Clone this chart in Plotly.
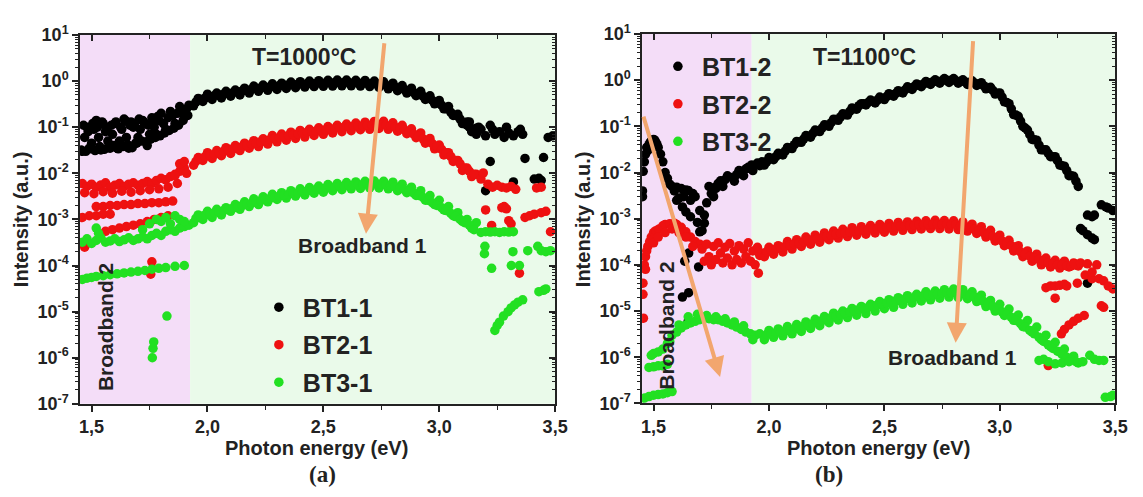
import plotly.graph_objects as go

W, H = 1143, 497

# ---------------- axis tick labels ----------------
X_TICKS = [1.5, 2.0, 2.5, 3.0, 3.5]
X_TICK_TEXT = ["1,5", "2,0", "2,5", "3,0", "3,5"]
X_MINOR = [1.75, 2.25, 2.75, 3.25]
Y_TICKS = [1e-7, 1e-6, 1e-5, 1e-4, 1e-3, 1e-2, 1e-1, 1e0, 1e1]
Y_TICK_TEXT = ["10<sup>-7</sup>", "10<sup>-6</sup>", "10<sup>-5</sup>", "10<sup>-4</sup>",
               "10<sup>-3</sup>", "10<sup>-2</sup>", "10<sup>-1</sup>", "10<sup>0</sup>", "10<sup>1</sup>"]
Y_MINOR = [m * 10.0 ** e for e in range(-7, 1) for m in range(2, 10)]

# ---------------- panel (a) data : T = 1000 C ----------------
A_GRID = [1.94, 1.96, 1.98, 2.00, 2.02, 2.04, 2.06, 2.08, 2.10, 2.12,
          2.14, 2.16, 2.18, 2.20, 2.22, 2.24, 2.26, 2.28, 2.30, 2.32,
          2.34, 2.36, 2.38, 2.40, 2.42, 2.44, 2.46, 2.48, 2.50, 2.52,
          2.54, 2.56, 2.58, 2.60, 2.62, 2.64, 2.66, 2.68, 2.70, 2.72,
          2.74, 2.76, 2.78, 2.80, 2.82, 2.84, 2.86, 2.88, 2.90, 2.92,
          2.94, 2.96, 2.98, 3.00, 3.02, 3.04, 3.06, 3.08, 3.10, 3.12,
          3.14, 3.16]
A_GRID_MID = [1.95, 1.97, 1.99, 2.01, 2.03, 2.05, 2.07, 2.09, 2.11, 2.13,
              2.15, 2.17, 2.19, 2.21, 2.23, 2.25, 2.27, 2.29, 2.31, 2.33,
              2.35, 2.37, 2.39, 2.41, 2.43, 2.45, 2.47, 2.49, 2.51, 2.53,
              2.55, 2.57, 2.59, 2.61, 2.63, 2.65, 2.67, 2.69, 2.71, 2.73,
              2.75, 2.77, 2.79, 2.81, 2.83, 2.85, 2.87, 2.89, 2.91, 2.93,
              2.95, 2.97, 2.99, 3.01, 3.03, 3.05, 3.07, 3.09, 3.11, 3.13,
              3.15]

A_BT1_MAIN = [0.29, 0.42, 0.36, 0.52, 0.40, 0.55, 0.43, 0.60, 0.47, 0.64,
              0.50, 0.70, 0.55, 0.78, 0.60, 0.82, 0.63, 0.87, 0.66, 0.90,
              0.69, 0.95, 0.72, 0.97, 0.74, 1.00, 0.76, 1.02, 0.77, 1.04,
              0.78, 1.05, 0.79, 1.05, 0.79, 1.04, 0.78, 1.03, 0.76, 1.00,
              0.73, 0.96, 0.68, 0.90, 0.62, 0.80, 0.55, 0.70, 0.48, 0.60,
              0.40, 0.48, 0.32, 0.38, 0.25, 0.28, 0.18, 0.19, 0.12, 0.13,
              0.085, 0.095]
A_BT1_MID = [0.35, 0.40, 0.43, 0.46, 0.48, 0.50, 0.52, 0.54, 0.56, 0.58,
             0.61, 0.63, 0.66, 0.69, 0.71, 0.73, 0.75, 0.77, 0.79, 0.81,
             0.82, 0.84, 0.85, 0.86, 0.87, 0.88, 0.89, 0.90, 0.91, 0.92,
             0.92, 0.92, 0.92, 0.92, 0.91, 0.91, 0.90, 0.89, 0.88, 0.86,
             0.84, 0.81, 0.78, 0.74, 0.70, 0.65, 0.61, 0.56, 0.51, 0.47,
             0.42, 0.38, 0.34, 0.30, 0.25, 0.21, 0.18, 0.15, 0.12, 0.10,
             0.09]
A_BT2_MAIN = [0.015, 0.022, 0.019, 0.028, 0.021, 0.031, 0.024, 0.036, 0.027, 0.040,
              0.031, 0.045, 0.035, 0.051, 0.038, 0.056, 0.043, 0.066, 0.048, 0.071,
              0.052, 0.078, 0.057, 0.085, 0.061, 0.090, 0.066, 0.097, 0.070, 0.103,
              0.075, 0.110, 0.080, 0.117, 0.084, 0.123, 0.088, 0.128, 0.090, 0.133,
              0.094, 0.134, 0.090, 0.124, 0.082, 0.110, 0.072, 0.092, 0.059, 0.075,
              0.045, 0.057, 0.034, 0.041, 0.025, 0.028, 0.018, 0.019, 0.0115, 0.013,
              0.0085, 0.0095]
A_BT2_MID = [0.018, 0.021, 0.023, 0.025, 0.026, 0.028, 0.030, 0.032, 0.034, 0.036,
             0.038, 0.040, 0.043, 0.045, 0.048, 0.051, 0.054, 0.057, 0.060, 0.063,
             0.066, 0.069, 0.072, 0.075, 0.078, 0.080, 0.083, 0.086, 0.088, 0.091,
             0.094, 0.097, 0.100, 0.102, 0.104, 0.106, 0.108, 0.110, 0.112, 0.113,
             0.113, 0.110, 0.106, 0.100, 0.094, 0.087, 0.079, 0.071, 0.063, 0.056,
             0.050, 0.044, 0.038, 0.033, 0.028, 0.023, 0.019, 0.016, 0.013, 0.011,
             0.0095]
A_BT3_MAIN = [8.5e-4, 1.25e-3, 1.0e-3, 1.5e-3, 1.1e-3, 1.65e-3, 1.25e-3, 1.8e-3, 1.5e-3, 2.1e-3,
              1.65e-3, 2.4e-3, 1.9e-3, 2.8e-3, 2.1e-3, 3.1e-3, 2.4e-3, 3.5e-3, 2.7e-3, 3.8e-3,
              2.9e-3, 4.2e-3, 3.2e-3, 4.6e-3, 3.4e-3, 4.9e-3, 3.7e-3, 5.3e-3, 3.9e-3, 5.7e-3,
              4.2e-3, 6.0e-3, 4.4e-3, 6.3e-3, 4.6e-3, 6.5e-3, 4.7e-3, 6.7e-3, 4.8e-3, 6.8e-3,
              4.8e-3, 6.7e-3, 4.6e-3, 6.4e-3, 4.2e-3, 5.8e-3, 3.8e-3, 5.0e-3, 3.3e-3, 4.2e-3,
              2.6e-3, 3.3e-3, 2.1e-3, 2.6e-3, 1.6e-3, 1.9e-3, 1.2e-3, 1.4e-3, 9.0e-4, 1.0e-3,
              6.5e-4, 8.5e-4]
A_BT3_MID = [1.05e-3, 1.15e-3, 1.25e-3, 1.3e-3, 1.4e-3, 1.45e-3, 1.55e-3, 1.65e-3, 1.75e-3, 1.85e-3,
             2.0e-3, 2.1e-3, 2.25e-3, 2.4e-3, 2.55e-3, 2.7e-3, 2.85e-3, 3.0e-3, 3.2e-3, 3.35e-3,
             3.5e-3, 3.65e-3, 3.8e-3, 4.0e-3, 4.15e-3, 4.3e-3, 4.5e-3, 4.65e-3, 4.8e-3, 4.95e-3,
             5.1e-3, 5.2e-3, 5.35e-3, 5.45e-3, 5.55e-3, 5.65e-3, 5.7e-3, 5.8e-3, 5.8e-3, 5.8e-3,
             5.8e-3, 5.6e-3, 5.4e-3, 5.1e-3, 4.8e-3, 4.4e-3, 4.1e-3, 3.7e-3, 3.3e-3, 3.0e-3,
             2.6e-3, 2.3e-3, 2.0e-3, 1.8e-3, 1.55e-3, 1.35e-3, 1.15e-3, 1.0e-3, 8.5e-4, 7.5e-4,
             6.0e-4]

A_BT1_LOW_X = [1.46, 1.47, 1.48, 1.49, 1.50, 1.51, 1.52, 1.53, 1.54, 1.55,
               1.56, 1.57, 1.58, 1.59, 1.60, 1.61, 1.62, 1.63, 1.64, 1.65,
               1.66, 1.67, 1.68, 1.69, 1.70, 1.71, 1.72, 1.73, 1.74, 1.75,
               1.76, 1.77, 1.78, 1.79, 1.80, 1.81, 1.82, 1.83, 1.84, 1.85,
               1.86, 1.87, 1.88, 1.89, 1.90, 1.91, 1.92,
               1.455, 1.475, 1.495, 1.515, 1.535, 1.555, 1.575, 1.595, 1.615, 1.635,
               1.655, 1.675, 1.695, 1.715, 1.735, 1.755, 1.775, 1.795, 1.815, 1.835,
               1.855, 1.875, 1.895, 1.915,
               1.465, 1.485, 1.505, 1.525, 1.545, 1.565, 1.585, 1.605, 1.625, 1.645,
               1.665, 1.685, 1.705, 1.725, 1.745, 1.765, 1.785]
A_BT1_LOW_Y = [0.030, 0.060, 0.10, 0.035, 0.045, 0.09, 0.14, 0.06, 0.032, 0.12,
               0.08, 0.05, 0.035, 0.07, 0.12, 0.035, 0.05, 0.09, 0.15, 0.06,
               0.035, 0.13, 0.10, 0.045, 0.06, 0.09, 0.14, 0.12, 0.04, 0.07,
               0.16, 0.10, 0.07, 0.14, 0.20, 0.12, 0.09, 0.16, 0.22, 0.18,
               0.12, 0.20, 0.28, 0.22, 0.18, 0.25, 0.30,
               0.032, 0.030, 0.034, 0.031, 0.038, 0.033, 0.036, 0.040, 0.034, 0.038,
               0.042, 0.036, 0.045, 0.05, 0.048, 0.055, 0.06, 0.065, 0.075, 0.085,
               0.095, 0.11, 0.14, 0.18,
               0.11, 0.08, 0.12, 0.10, 0.13, 0.09, 0.11, 0.13, 0.10, 0.14,
               0.11, 0.12, 0.15, 0.13, 0.11, 0.14, 0.17]
A_BT1_TAIL_X = [3.12, 3.14, 3.16, 3.18, 3.20, 3.22, 3.24, 3.26, 3.28, 3.30,
                3.32, 3.34, 3.36, 3.47, 3.49,
                3.22, 3.37, 3.45, 3.20, 3.32, 3.41, 3.43, 3.44,
                3.13, 3.17, 3.23, 3.29, 3.35]
A_BT1_TAIL_Y = [0.11, 0.08, 0.07, 0.09, 0.065, 0.11, 0.07, 0.08, 0.06, 0.075,
                0.065, 0.08, 0.07, 0.06, 0.065,
                0.018, 0.021, 0.022, 0.0042, 0.0065, 0.0075, 0.0078, 0.007,
                0.13, 0.10, 0.09, 0.10, 0.09]

A_BT2_LOW_X = [1.46, 1.48, 1.50, 1.52, 1.54, 1.56, 1.58, 1.60, 1.62, 1.64,
               1.66, 1.68, 1.70, 1.72, 1.74, 1.76, 1.78, 1.80, 1.82, 1.84,
               1.86, 1.88, 1.90,
               1.47, 1.51, 1.55, 1.59, 1.63, 1.67, 1.71, 1.75, 1.79, 1.83, 1.87, 1.91,
               1.52, 1.55, 1.58, 1.61, 1.64, 1.67, 1.70, 1.73, 1.76, 1.79, 1.82, 1.85,
               1.46, 1.49, 1.52, 1.55, 1.58,
               1.56, 1.59, 1.62, 1.65, 1.68, 1.71, 1.74, 1.77, 1.80, 1.83,
               1.47, 1.48, 1.76, 1.755, 1.86, 1.88, 1.90]
A_BT2_LOW_Y = [0.0060, 0.0052, 0.0058, 0.0050, 0.0056, 0.0062, 0.0050, 0.0055, 0.0060, 0.0052,
               0.0058, 0.0062, 0.0055, 0.0060, 0.0066, 0.0060, 0.0070, 0.0078, 0.0072, 0.0085,
               0.0095, 0.011, 0.013,
               0.0038, 0.0036, 0.0040, 0.0037, 0.0041, 0.0039, 0.0042, 0.0044, 0.0046, 0.0050, 0.0060, 0.010,
               0.0019, 0.0019, 0.0020, 0.0020, 0.0021, 0.0021, 0.0022, 0.0022, 0.0023, 0.0023, 0.0024, 0.0025,
               0.0011, 0.0012, 0.0012, 0.0013, 0.0013,
               5.5e-4, 6.0e-4, 6.5e-4, 7.0e-4, 7.5e-4, 8.0e-4, 9.0e-4, 1.0e-3, 1.1e-3, 1.2e-3,
               2.5e-4, 3.0e-4, 1.2e-4, 6.5e-5, 0.009, 0.016, 0.018]
A_BT2_TAIL_X = [3.18, 3.19, 3.21, 3.23, 3.25, 3.27, 3.29, 3.31, 3.33, 3.42, 3.44,
                3.20, 3.27, 3.28, 3.29, 3.226, 3.30, 3.31, 3.37, 3.39, 3.41, 3.44, 3.46, 3.48, 3.346]
A_BT2_TAIL_Y = [0.0075, 0.0102, 0.0058, 0.005, 0.0055, 0.005, 0.0048, 0.0052, 0.0045, 0.0048, 0.005,
                0.0016, 0.0018, 0.0019, 0.0017, 7.4e-4, 9.4e-4, 8.0e-4, 1.1e-3, 1.2e-3, 1.3e-3, 1.4e-3, 1.5e-3, 5.4e-4, 6.8e-5]

A_BT3_LOW_X = [1.46, 1.48, 1.50, 1.52, 1.54, 1.56, 1.58, 1.60, 1.62, 1.64,
               1.66, 1.68, 1.70, 1.72, 1.74, 1.76, 1.78, 1.80, 1.82, 1.84,
               1.86, 1.88, 1.90, 1.92,
               1.52, 1.53, 1.72, 1.75, 1.78, 1.80, 1.82, 1.84, 1.86, 1.88, 1.90,
               1.46, 1.48, 1.50, 1.52, 1.55, 1.58, 1.61, 1.64, 1.67, 1.70,
               1.73, 1.76, 1.79, 1.82, 1.86, 1.90,
               1.762, 1.765, 1.768, 1.825]
A_BT3_LOW_Y = [3.2e-4, 3.8e-4, 3.0e-4, 3.5e-4, 4.0e-4, 3.2e-4, 3.4e-4, 3.8e-4, 3.3e-4, 3.6e-4,
               4.0e-4, 3.5e-4, 3.8e-4, 4.2e-4, 3.8e-4, 4.5e-4, 5.0e-4, 4.5e-4, 5.5e-4, 6.0e-4,
               5.5e-4, 6.5e-4, 7.0e-4, 7.5e-4,
               6.5e-4, 5.0e-4, 6.0e-4, 8.0e-4, 1.0e-3, 9.0e-4, 1.1e-3, 8.0e-4, 1.2e-3, 1.0e-3, 9.0e-4,
               5.0e-5, 5.3e-5, 5.5e-5, 5.8e-5, 6.0e-5, 6.3e-5, 6.6e-5, 6.9e-5, 7.2e-5, 7.5e-5,
               7.8e-5, 8.3e-5, 8.7e-5, 9.0e-5, 9.6e-5, 1.0e-4,
               1.0e-6, 1.6e-6, 2.2e-6, 8.0e-6]
A_BT3_TAIL_X = [3.18, 3.20, 3.22, 3.24, 3.26, 3.28, 3.30, 3.32,
                3.197, 3.195, 3.226, 3.318, 3.311, 3.346, 3.382, 3.425, 3.44, 3.46, 3.48,
                3.24, 3.25, 3.26, 3.277, 3.297, 3.31, 3.325, 3.34, 3.36, 3.43, 3.45, 3.46]
A_BT3_TAIL_Y = [5.2e-4, 5.4e-4, 5.3e-4, 5.4e-4, 5.2e-4, 5.4e-4, 5.3e-4, 5.4e-4,
                2.6e-4, 1.8e-4, 8.7e-5, 2.0e-4, 1.0e-4, 1.0e-4, 2.1e-4, 2.6e-4, 2.1e-4, 2.0e-4, 2.1e-4,
                3.9e-6, 5.0e-6, 5.9e-6, 8.0e-6, 1.0e-5, 1.2e-5, 1.4e-5, 1.6e-5, 1.8e-5, 2.7e-5, 2.9e-5, 3.1e-5]

# ---------------- panel (b) data : T = 1100 C ----------------
B_GRID = [1.98, 2.00, 2.02, 2.04, 2.06, 2.08, 2.10, 2.12, 2.14, 2.16,
          2.18, 2.20, 2.22, 2.24, 2.26, 2.28, 2.30, 2.32, 2.34, 2.36,
          2.38, 2.40, 2.42, 2.44, 2.46, 2.48, 2.50, 2.52, 2.54, 2.56,
          2.58, 2.60, 2.62, 2.64, 2.66, 2.68, 2.70, 2.72, 2.74, 2.76,
          2.78, 2.80, 2.82, 2.84, 2.86, 2.88, 2.90, 2.92, 2.94, 2.96,
          2.98, 3.00, 3.02, 3.04, 3.06, 3.08, 3.10, 3.12, 3.14, 3.16,
          3.18, 3.20, 3.22, 3.24, 3.26, 3.28, 3.30, 3.32, 3.34]
B_GRID_MID = [1.99, 2.01, 2.03, 2.05, 2.07, 2.09, 2.11, 2.13, 2.15, 2.17,
              2.19, 2.21, 2.23, 2.25, 2.27, 2.29, 2.31, 2.33, 2.35, 2.37,
              2.39, 2.41, 2.43, 2.45, 2.47, 2.49, 2.51, 2.53, 2.55, 2.57,
              2.59, 2.61, 2.63, 2.65, 2.67, 2.69, 2.71, 2.73, 2.75, 2.77,
              2.79, 2.81, 2.83, 2.85, 2.87, 2.89, 2.91, 2.93, 2.95, 2.97,
              2.99, 3.01, 3.03, 3.05, 3.07, 3.09, 3.11, 3.13, 3.15, 3.17,
              3.19, 3.21, 3.23, 3.25, 3.27, 3.29, 3.31, 3.33]

B_BT1_MAIN = [0.0145, 0.021, 0.019, 0.026, 0.024, 0.035, 0.033, 0.047, 0.045, 0.063,
              0.058, 0.083, 0.077, 0.108, 0.10, 0.143, 0.135, 0.187, 0.175, 0.25,
              0.235, 0.31, 0.29, 0.37, 0.32, 0.43, 0.38, 0.51, 0.45, 0.59,
              0.53, 0.72, 0.63, 0.83, 0.72, 0.94, 0.81, 1.02, 0.86, 1.08,
              0.89, 1.08, 0.86, 1.02, 0.81, 0.97, 0.77, 0.88, 0.65, 0.70,
              0.50, 0.53, 0.34, 0.31, 0.18, 0.165, 0.10, 0.083, 0.052, 0.05,
              0.031, 0.031, 0.022, 0.022, 0.0145, 0.0137, 0.0085, 0.0083, 0.005]
B_BT1_MID = [0.017, 0.020, 0.022, 0.025, 0.029, 0.034, 0.040, 0.046, 0.053, 0.061,
             0.070, 0.080, 0.092, 0.105, 0.121, 0.14, 0.16, 0.18, 0.21, 0.24,
             0.28, 0.31, 0.33, 0.35, 0.37, 0.40, 0.44, 0.48, 0.52, 0.56,
             0.62, 0.68, 0.73, 0.78, 0.83, 0.88, 0.92, 0.95, 0.97, 0.99,
             0.99, 0.97, 0.95, 0.92, 0.89, 0.87, 0.83, 0.76, 0.68, 0.60,
             0.52, 0.43, 0.33, 0.24, 0.175, 0.13, 0.092, 0.066, 0.051, 0.039,
             0.031, 0.026, 0.022, 0.018, 0.014, 0.011, 0.0085, 0.0065]
B_BT2_MAIN = [1.5e-4, 2.4e-4, 1.7e-4, 2.6e-4, 1.9e-4, 3.2e-4, 2.2e-4, 3.5e-4, 2.5e-4, 4.0e-4,
              2.8e-4, 4.4e-4, 3.1e-4, 4.9e-4, 3.5e-4, 5.4e-4, 3.8e-4, 5.9e-4, 4.1e-4, 6.4e-4,
              4.4e-4, 6.7e-4, 4.6e-4, 7.1e-4, 4.9e-4, 7.5e-4, 5.1e-4, 7.9e-4, 5.4e-4, 8.3e-4,
              5.6e-4, 8.5e-4, 5.8e-4, 8.8e-4, 6.0e-4, 9.0e-4, 6.1e-4, 9.2e-4, 6.1e-4, 9.1e-4,
              6.0e-4, 9.0e-4, 5.8e-4, 8.5e-4, 5.4e-4, 7.6e-4, 4.8e-4, 6.7e-4, 4.0e-4, 5.6e-4,
              3.3e-4, 4.4e-4, 2.6e-4, 3.4e-4, 2.0e-4, 2.6e-4, 1.5e-4, 2.0e-4, 1.2e-4, 1.7e-4,
              1.0e-4, 1.4e-4, 9.0e-5, 1.25e-4, 8.5e-5, 1.2e-4, 9.0e-5, 1.1e-4, 9.5e-5]
B_BT2_MID = [1.9e-4, 2.1e-4, 2.2e-4, 2.4e-4, 2.5e-4, 2.7e-4, 2.8e-4, 3.0e-4, 3.2e-4, 3.4e-4,
             3.5e-4, 3.7e-4, 3.9e-4, 4.1e-4, 4.3e-4, 4.6e-4, 4.8e-4, 5.0e-4, 5.2e-4, 5.4e-4,
             5.5e-4, 5.7e-4, 5.8e-4, 6.0e-4, 6.1e-4, 6.3e-4, 6.5e-4, 6.6e-4, 6.8e-4, 6.9e-4,
             7.0e-4, 7.1e-4, 7.2e-4, 7.4e-4, 7.5e-4, 7.6e-4, 7.6e-4, 7.6e-4, 7.6e-4, 7.6e-4,
             7.5e-4, 7.4e-4, 7.1e-4, 6.8e-4, 6.4e-4, 5.9e-4, 5.5e-4, 5.0e-4, 4.6e-4, 4.1e-4,
             3.7e-4, 3.3e-4, 2.9e-4, 2.6e-4, 2.2e-4, 1.9e-4, 1.7e-4, 1.55e-4, 1.4e-4, 1.3e-4,
             1.2e-4, 1.1e-4, 1.05e-4, 1.0e-4, 1.0e-4, 9.5e-5, 9.5e-5, 1.0e-4]
B_BT3_MAIN = [2.4e-6, 3.8e-6, 2.7e-6, 4.1e-6, 2.9e-6, 4.6e-6, 3.2e-6, 5.1e-6, 3.6e-6, 5.8e-6,
              4.2e-6, 6.6e-6, 4.8e-6, 7.6e-6, 5.6e-6, 9.0e-6, 6.4e-6, 1.0e-5, 7.2e-6, 1.14e-5,
              8.1e-6, 1.26e-5, 8.8e-6, 1.4e-5, 1.0e-5, 1.6e-5, 1.12e-5, 1.76e-5, 1.2e-5, 1.95e-5,
              1.4e-5, 2.15e-5, 1.5e-5, 2.3e-5, 1.65e-5, 2.6e-5, 1.75e-5, 2.7e-5, 1.9e-5, 2.9e-5,
              2.0e-5, 3.0e-5, 1.95e-5, 2.9e-5, 1.85e-5, 2.6e-5, 1.6e-5, 2.2e-5, 1.25e-5, 1.7e-5,
              1.0e-5, 1.4e-5, 8.0e-6, 1.1e-5, 6.3e-6, 8.2e-6, 4.6e-6, 6.2e-6, 3.5e-6, 4.5e-6,
              2.4e-6, 3.0e-6, 1.7e-6, 2.1e-6, 1.3e-6, 1.5e-6, 9.0e-7, 1.05e-6, 7.5e-7]
B_BT3_MID = [3.1e-6, 3.2e-6, 3.4e-6, 3.5e-6, 3.7e-6, 3.9e-6, 4.1e-6, 4.4e-6, 4.7e-6, 5.0e-6,
             5.3e-6, 5.8e-6, 6.2e-6, 6.7e-6, 7.2e-6, 7.8e-6, 8.4e-6, 9.0e-6, 9.6e-6, 1.02e-5,
             1.08e-5, 1.14e-5, 1.2e-5, 1.28e-5, 1.36e-5, 1.44e-5, 1.5e-5, 1.58e-5, 1.66e-5, 1.74e-5,
             1.82e-5, 1.9e-5, 1.98e-5, 2.06e-5, 2.14e-5, 2.2e-5, 2.28e-5, 2.35e-5, 2.42e-5, 2.48e-5,
             2.5e-5, 2.48e-5, 2.42e-5, 2.32e-5, 2.18e-5, 2.0e-5, 1.8e-5, 1.6e-5, 1.42e-5, 1.25e-5,
             1.1e-5, 9.6e-6, 8.4e-6, 7.3e-6, 6.2e-6, 5.3e-6, 4.5e-6, 3.8e-6, 3.2e-6, 2.7e-6,
             2.2e-6, 1.85e-6, 1.55e-6, 1.35e-6, 1.15e-6, 1.0e-6, 8.8e-7, 8.0e-7]

B_BT1_LOW_X = [1.452, 1.452, 1.455, 1.46, 1.465, 1.47, 1.48, 1.49, 1.50, 1.51,
               1.52, 1.53, 1.54, 1.55, 1.56, 1.57, 1.58, 1.60, 1.62, 1.64,
               1.65, 1.67, 1.68, 1.60, 1.61, 1.625, 1.64, 1.66, 1.69, 1.70,
               1.71, 1.72, 1.73, 1.75, 1.767, 1.78, 1.79, 1.81, 1.84, 1.86,
               1.88, 1.90, 1.925, 1.95, 1.97,
               1.74, 1.76, 1.70, 1.72, 1.77, 1.80, 1.82, 1.85, 1.87, 1.89, 1.91, 1.93, 1.96,
               1.475, 1.485, 1.495, 1.505, 1.515,
               1.59, 1.63, 1.66,
               1.652, 1.635, 1.695, 1.625, 1.652, 1.648]
B_BT1_LOW_Y = [0.004, 0.003, 0.0106, 0.017, 0.025, 0.035, 0.040, 0.048, 0.052, 0.045,
               0.035, 0.025, 0.017, 0.010, 0.0075, 0.0056, 0.005, 0.0048, 0.0045, 0.0042,
               0.0041, 0.0035, 0.003, 0.0025, 0.0028, 0.0018, 0.0014, 0.0011, 8.3e-4, 5.2e-4,
               5.5e-4, 0.0012, 0.0022, 0.0035, 0.0048, 0.0058, 0.0066, 0.007, 0.0078, 0.009,
               0.0106, 0.012, 0.0146, 0.016, 0.017,
               0.005, 0.003, 0.0015, 8.0e-4, 0.0045, 0.005, 0.0085, 0.0065, 0.011, 0.0085, 0.013, 0.011, 0.014,
               0.03, 0.045, 0.038, 0.05, 0.04,
               0.004, 0.003, 0.0025,
               1.8e-4, 1.2e-4, 9.0e-5, 2.0e-5, 2.5e-5, 5.6e-6]
B_BT1_TAIL_X = [3.35, 3.36, 3.38, 3.40, 3.41, 3.38, 3.40, 3.41, 3.44, 3.46, 3.47, 3.49, 3.38]
B_BT1_TAIL_Y = [6.1e-4, 5.5e-4, 4.5e-4, 3.8e-4, 3.5e-4, 1.2e-3, 1.1e-3, 1.2e-3, 2.0e-3, 1.8e-3, 1.7e-3, 1.5e-3, 4.0e-5]

B_BT2_LOW_X = [1.454, 1.454, 1.456, 1.465, 1.47, 1.475, 1.483, 1.49, 1.50, 1.51,
               1.524, 1.54, 1.55, 1.57, 1.59, 1.60, 1.62, 1.64, 1.66, 1.68, 1.70,
               1.50, 1.52, 1.55, 1.58, 1.61, 1.64, 1.67,
               1.46, 1.465,
               1.71, 1.72, 1.73, 1.74, 1.75, 1.76, 1.77, 1.78, 1.79, 1.80,
               1.81, 1.82, 1.83, 1.84, 1.85, 1.86, 1.87, 1.88, 1.89, 1.90,
               1.91, 1.92, 1.93, 1.94, 1.95, 1.96, 1.97]
B_BT2_LOW_Y = [4.0e-5, 2.3e-5, 7.0e-6, 1.5e-4, 2.0e-4, 2.5e-4, 3.2e-4, 4.0e-4, 5.0e-4, 5.5e-4,
               6.0e-4, 7.0e-4, 7.5e-4, 7.8e-4, 8.0e-4, 7.5e-4, 6.5e-4, 5.2e-4, 4.0e-4, 3.2e-4, 2.8e-4,
               3.0e-4, 4.0e-4, 5.0e-4, 6.0e-4, 5.0e-4, 4.0e-4, 2.5e-4,
               1.0e-4, 8.0e-5,
               2.2e-4, 1.2e-4, 2.8e-4, 1.5e-4, 1.0e-4, 2.5e-4, 1.3e-4, 3.0e-4, 1.8e-4, 1.1e-4,
               2.4e-4, 1.4e-4, 2.9e-4, 1.0e-4, 2.0e-4, 1.3e-4, 2.6e-4, 1.1e-4, 2.2e-4, 1.5e-4,
               3.0e-4, 1.2e-4, 2.0e-4, 1.0e-4, 2.4e-4, 1.6e-4, 1.8e-4]
B_BT2_TAIL_X = [3.323, 3.35, 3.38, 3.20, 3.22, 3.24, 3.26, 3.28, 3.29, 3.24,
                3.336, 3.37, 3.40, 3.43, 3.49, 3.44, 3.45, 3.267, 3.28, 3.30,
                3.32, 3.34, 3.366, 3.21, 3.45, 3.47, 3.42, 3.40, 1.954]
B_BT2_TAIL_Y = [1.05e-4, 1.1e-4, 1.05e-4, 3.2e-5, 3.5e-5, 3.5e-5, 3.6e-5, 3.8e-5, 3.5e-5, 1.9e-5,
                4.0e-5, 6.0e-5, 5.0e-5, 5.0e-5, 3.0e-5, 1.3e-5, 1.2e-5, 3.2e-6, 4.0e-6, 5.0e-6,
                6.0e-6, 7.0e-6, 8.0e-6, 6.6e-7, 4.5e-5, 3.5e-5, 1.0e-4, 7.0e-5, 6.6e-5]

B_BT3_LOW_X = [1.46, 1.48, 1.50, 1.52, 1.54, 1.56, 1.58,
               1.48, 1.50, 1.52, 1.54, 1.56,
               1.49, 1.50, 1.52, 1.54, 1.56, 1.58, 1.60, 1.62, 1.64, 1.66,
               1.68, 1.70, 1.72, 1.74, 1.76, 1.78, 1.80, 1.82, 1.84, 1.86,
               1.88, 1.90, 1.92, 1.94, 1.96,
               1.57, 1.61, 1.65, 1.69, 1.73, 1.77, 1.81, 1.85, 1.89, 1.93]
B_BT3_LOW_Y = [1.3e-7, 1.4e-7, 1.5e-7, 1.55e-7, 1.6e-7, 1.7e-7, 1.8e-7,
               6.0e-7, 6.2e-7, 6.5e-7, 6.5e-7, 7.0e-7,
               1.1e-6, 1.2e-6, 1.3e-6, 1.5e-6, 2.0e-6, 3.0e-6, 3.5e-6, 4.3e-6, 5.0e-6, 5.5e-6,
               6.0e-6, 6.5e-6, 7.0e-6, 6.8e-6, 6.5e-6, 6.5e-6, 6.0e-6, 5.5e-6, 5.0e-6, 4.5e-6,
               4.0e-6, 3.5e-6, 3.2e-6, 3.0e-6, 3.2e-6,
               2.2e-6, 5.0e-6, 7.5e-6, 8.5e-6, 8.0e-6, 7.5e-6, 6.8e-6, 5.8e-6, 4.8e-6, 2.4e-6]
B_BT3_TAIL_X = [3.19, 3.21, 3.24, 3.27, 3.30, 3.39, 3.41, 3.43, 3.45, 3.457, 3.48, 3.49, 3.17, 3.36]
B_BT3_TAIL_Y = [9.0e-7, 8.0e-7, 7.2e-7, 7.5e-7, 8.0e-7, 1.1e-6, 9.0e-7, 8.5e-7, 8.5e-7, 1.35e-7, 1.4e-7, 1.5e-7, 8.5e-7, 8.0e-7]

SERIES_A = ["BT1-1", "BT2-1", "BT3-1"]
SERIES_B = ["BT1-2", "BT2-2", "BT3-2"]

# ---------------- styling ----------------
BLACK, RED, GREEN = "#000000", "#EE1111", "#22E022"
PURPLE_BG, GREEN_BG = "#F4DDF8", "#EAFAEA"
ARROW = "#F2A66E"
AX = "#222222"
FONT = "Liberation Sans"

fig = go.Figure()

def add_series(name, x, y, color, xa, ya, legend):
    fig.add_trace(go.Scatter(
        x=x, y=y, mode="markers", name=name,
        marker=dict(color=color, size=9.5, line=dict(width=0)),
        xaxis=xa, yaxis=ya, legend=legend, legendgroup=name, showlegend=True,
        hoverinfo="skip"))

add_series(SERIES_A[0], A_BT1_LOW_X + A_GRID + A_GRID_MID + A_BT1_TAIL_X,
           A_BT1_LOW_Y + A_BT1_MAIN + A_BT1_MID + A_BT1_TAIL_Y, BLACK, "x", "y", "legend")
add_series(SERIES_A[1], A_BT2_LOW_X + A_GRID + A_GRID_MID + A_BT2_TAIL_X,
           A_BT2_LOW_Y + A_BT2_MAIN + A_BT2_MID + A_BT2_TAIL_Y, RED, "x", "y", "legend")
add_series(SERIES_A[2], A_BT3_LOW_X + A_GRID + A_GRID_MID + A_BT3_TAIL_X,
           A_BT3_LOW_Y + A_BT3_MAIN + A_BT3_MID + A_BT3_TAIL_Y, GREEN, "x", "y", "legend")

add_series(SERIES_B[0], B_BT1_LOW_X + B_GRID + B_GRID_MID + B_BT1_TAIL_X,
           B_BT1_LOW_Y + B_BT1_MAIN + B_BT1_MID + B_BT1_TAIL_Y, BLACK, "x2", "y2", "legend2")
add_series(SERIES_B[1], B_BT2_LOW_X + B_GRID + B_GRID_MID + B_BT2_TAIL_X,
           B_BT2_LOW_Y + B_BT2_MAIN + B_BT2_MID + B_BT2_TAIL_Y, RED, "x2", "y2", "legend2")
add_series(SERIES_B[2], B_BT3_LOW_X + B_GRID + B_GRID_MID + B_BT3_TAIL_X,
           B_BT3_LOW_Y + B_BT3_MAIN + B_BT3_MID + B_BT3_TAIL_Y, GREEN, "x2", "y2", "legend2")

# dummy traces so the mirrored (inward tick) axes are drawn
for xa, ya in [("x3", "y"), ("x", "y3"), ("x4", "y2"), ("x2", "y4")]:
    fig.add_trace(go.Scatter(x=[None], y=[None], xaxis=xa, yaxis=ya, showlegend=False, hoverinfo="skip"))

tickfont = dict(family=FONT, size=18, color=AX, weight="bold")

def xaxis_main(domain, anchor):
    return dict(domain=domain, anchor=anchor, range=[1.45, 3.5], showline=True, mirror=True,
                linecolor=AX, linewidth=1.5, ticks="outside", ticklen=6, tickwidth=1.5, tickcolor=AX,
                tickmode="array", tickvals=X_TICKS, ticktext=X_TICK_TEXT, tickfont=tickfont,
                showgrid=False, zeroline=False,
                minor=dict(tickmode="array", tickvals=X_MINOR, ticks="outside", ticklen=4,
                           tickwidth=1.2, tickcolor=AX, showgrid=False))

def yaxis_main(domain, anchor):
    return dict(domain=domain, anchor=anchor, type="log", range=[-7, 1], showline=True, mirror=True,
                linecolor=AX, linewidth=1.5, ticks="outside", ticklen=6, tickwidth=1.5, tickcolor=AX,
                tickmode="array", tickvals=Y_TICKS, ticktext=Y_TICK_TEXT, tickfont=tickfont,
                showgrid=False, zeroline=False,
                minor=dict(tickmode="array", tickvals=Y_MINOR, ticks="outside", ticklen=3,
                           tickwidth=1, tickcolor=AX, showgrid=False))

def xaxis_top(over, anchor):
    return dict(overlaying=over, anchor=anchor, side="top", range=[1.45, 3.5], showline=False,
                ticks="inside", ticklen=6, tickwidth=1.5, tickcolor=AX, tickmode="array",
                tickvals=X_TICKS, showticklabels=False, showgrid=False, zeroline=False,
                minor=dict(tickmode="array", tickvals=X_MINOR, ticks="inside", ticklen=4,
                           tickwidth=1.2, tickcolor=AX, showgrid=False))

def yaxis_right(over, anchor):
    return dict(overlaying=over, anchor=anchor, side="right", type="log", range=[-7, 1], showline=False,
                ticks="inside", ticklen=6, tickwidth=1.5, tickcolor=AX, tickmode="array",
                tickvals=Y_TICKS, showticklabels=False, showgrid=False, zeroline=False,
                minor=dict(tickmode="array", tickvals=Y_MINOR, ticks="inside", ticklen=3,
                           tickwidth=1, tickcolor=AX, showgrid=False))

A_XDOM = [80 / W, 561 / W]
A_YDOM = [1 - 410 / H, 1 - 24 / H]
B_XDOM = [649 / W, 1128 / W]
B_YDOM = [1 - 409.5 / H, 1 - 23 / H]

legend_font = dict(family=FONT, size=25, color=AX, weight="bold")

fig.update_layout(
    width=W, height=H, margin=dict(l=0, r=0, t=0, b=0),
    paper_bgcolor="white", plot_bgcolor="white",
    xaxis=xaxis_main(A_XDOM, "y"), yaxis=yaxis_main(A_YDOM, "x"),
    xaxis2=xaxis_main(B_XDOM, "y2"), yaxis2=yaxis_main(B_YDOM, "x2"),
    xaxis3=xaxis_top("x", "y"), yaxis3=yaxis_right("y", "x"),
    xaxis4=xaxis_top("x2", "y2"), yaxis4=yaxis_right("y2", "x2"),
    legend=dict(x=257 / W, y=1 - 285 / H, xanchor="left", yanchor="top", bgcolor="rgba(0,0,0,0)",
                font=legend_font, tracegroupgap=2, itemsizing="trace", itemwidth=38),
    legend2=dict(x=661 / W, y=1 - 33 / H, xanchor="left", yanchor="top", bgcolor="rgba(0,0,0,0)",
                 font=legend_font, tracegroupgap=2, itemsizing="trace", itemwidth=38),
    showlegend=True,
)

# background bands
for xr, yr in [("x", "y"), ("x2", "y2")]:
    fig.add_shape(type="rect", xref=xr, yref=f"{yr} domain", x0=1.45, x1=1.925, y0=0, y1=1,
                  fillcolor=PURPLE_BG, line=dict(width=0), layer="below")
    fig.add_shape(type="rect", xref=xr, yref=f"{yr} domain", x0=1.925, x1=3.5, y0=0, y1=1,
                  fillcolor=GREEN_BG, line=dict(width=0), layer="below")

def label(text, px, py, size, angle=0, family=FONT):
    fig.add_annotation(text=text, x=px / W, y=1 - py / H, xref="paper", yref="paper",
                       xanchor="center", yanchor="middle", showarrow=False, textangle=angle,
                       borderpad=0,
                       font=dict(family=family, size=size, color=AX, weight="bold"))

label("T=1000°C", 306.5, 47, 23)
label("T=1100°C", 874, 47, 23)
label("Broadband 1", 366, 244, 21)
label("Broadband 1", 963, 362, 21)
label("Broadband 2", 106, 330, 21, angle=-90)
label("Broadband 2", 673.5, 328, 21, angle=-90)
label("Intensity (a.u.)", 21, 217, 20, angle=-90)
label("Intensity (a.u.)", 590, 217, 20, angle=-90)
label("Photon energy (eV)", 319, 456, 20)
label("Photon energy (eV)", 888, 456, 20)
label("(a)", 325, 484, 23, family="Liberation Serif")
label("(b)", 838, 484, 23, family="Liberation Serif")

def arrow(tip_x, tip_y, tail_x, tail_y):
    fig.add_annotation(text="", x=tip_x / W, y=1 - tip_y / H, xref="paper", yref="paper",
                       ax=tail_x - tip_x, ay=tail_y - tip_y, showarrow=True,
                       arrowhead=2, arrowsize=1.0, arrowwidth=4, arrowcolor=ARROW)

arrow(369.5, 232, 388, 40)
arrow(728, 382, 651, 120)
arrow(966.5, 346, 984, 43)

fig.write_html("out.html")
